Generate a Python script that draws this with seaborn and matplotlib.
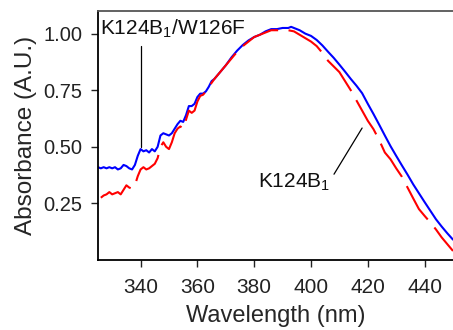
import matplotlib
matplotlib.use("Agg")
import matplotlib.pyplot as plt
import seaborn as sns
import pandas as pd
from matplotlib.ticker import FormatStrFormatter

# Absorbance spectra (wavelength in nm, absorbance in A.U.)
wl_w126f = [325, 326, 327, 328, 329, 330, 331, 332, 333, 334, 335, 336, 337, 338,
            339, 340, 341, 342, 343, 344, 345, 346, 347, 348, 349, 350, 351, 352,
            353, 354, 355, 356, 357, 358, 359, 360, 361, 362, 363, 364, 365, 366,
            367, 368, 369, 370, 372, 374, 376, 378, 380, 382, 384, 386, 388, 390,
            392, 393, 394, 396, 398, 400, 402, 404, 406, 408, 410, 412, 414, 416,
            418, 420, 422, 424, 426, 428, 430, 432, 434, 436, 438, 440, 442, 444,
            446, 448, 450]
abs_w126f = [0.41, 0.405, 0.41, 0.405, 0.41, 0.405, 0.41, 0.40, 0.405, 0.42, 0.415,
             0.405, 0.40, 0.42, 0.46, 0.49, 0.48, 0.485, 0.475, 0.49, 0.48, 0.50,
             0.55, 0.56, 0.555, 0.55, 0.56, 0.58, 0.60, 0.615, 0.61, 0.64, 0.68,
             0.68, 0.69, 0.72, 0.735, 0.735, 0.745, 0.765, 0.79, 0.80, 0.815, 0.83,
             0.845, 0.86, 0.895, 0.925, 0.95, 0.97, 0.985, 0.995, 1.01, 1.02, 1.02,
             1.025, 1.025, 1.03, 1.025, 1.015, 1.0, 0.99, 0.972, 0.948, 0.92, 0.893,
             0.863, 0.832, 0.80, 0.77, 0.737, 0.69, 0.645, 0.598, 0.55, 0.503, 0.46,
             0.418, 0.377, 0.334, 0.295, 0.256, 0.218, 0.18, 0.148, 0.118, 0.09]

wl_k124 = [326, 327, 328, 329, 330, 331, 332, 333, 334, 335, 336, 337, 338, 339,
           340, 341, 342, 343, 344, 345, 346, 347, 348, 349, 350, 351, 352, 353,
           354, 355, 356, 357, 358, 359, 360, 361, 362, 363, 364, 366, 368, 370,
           372, 374, 376, 378, 380, 382, 384, 386, 388, 390, 392, 394, 396, 398,
           400, 402, 404, 406, 408, 410, 412, 414, 416, 418, 420, 422, 424, 426,
           428, 430, 432, 434, 436, 438, 440, 442, 444, 446, 448, 450]
abs_k124 = [0.275, 0.285, 0.29, 0.30, 0.29, 0.295, 0.30, 0.29, 0.31, 0.33, 0.32,
            0.315, 0.33, 0.37, 0.40, 0.41, 0.40, 0.405, 0.415, 0.425, 0.45, 0.50,
            0.52, 0.50, 0.49, 0.52, 0.56, 0.58, 0.59, 0.58, 0.62, 0.66, 0.65, 0.66,
            0.70, 0.725, 0.73, 0.745, 0.765, 0.80, 0.83, 0.86, 0.89, 0.92, 0.945,
            0.965, 0.985, 0.995, 1.005, 1.015, 1.015, 1.015, 1.015, 1.01, 0.995,
            0.98, 0.965, 0.945, 0.915, 0.88, 0.855, 0.83, 0.79, 0.75, 0.705, 0.66,
            0.615, 0.578, 0.53, 0.475, 0.445, 0.405, 0.368, 0.32, 0.272, 0.225,
            0.195, 0.166, 0.135, 0.10, 0.07, 0.04]

x_ticks = [340, 360, 380, 400, 420, 440]
y_ticks = [0.25, 0.50, 0.75, 1.00]

sns.set_theme(style="white")
plt.rcParams["font.family"] = ["Liberation Sans", "DejaVu Sans"]
plt.rcParams["mathtext.fontset"] = "custom"
plt.rcParams["mathtext.rm"] = "Liberation Sans"
plt.rcParams["mathtext.it"] = "Liberation Sans"

fig = plt.figure(figsize=(4.53, 3.30), dpi=100)
ax = fig.add_axes([0.2163, 0.2121, 0.7837, 0.7546])

df_w = pd.DataFrame({"wl": wl_w126f, "abs": abs_w126f})
df_k = pd.DataFrame({"wl": wl_k124, "abs": abs_k124})

sns.lineplot(data=df_w, x="wl", y="abs", ax=ax, color="#0000ff", lw=1.5,
             estimator=None, sort=False)
sns.lineplot(data=df_k, x="wl", y="abs", ax=ax, color="#ff0000", lw=1.5,
             linestyle=(0, (19, 5)), estimator=None, sort=False)

ax.set_xlim(325, 450)
ax.set_ylim(0.0, 1.1)
ax.set_xticks(x_ticks)
ax.set_yticks(y_ticks)
ax.yaxis.set_major_formatter(FormatStrFormatter("%.2f"))

ax.set_xlabel("Wavelength (nm)", fontsize=17, labelpad=6)
ax.set_ylabel("Absorbance (A.U.)", fontsize=17.5, labelpad=5)

ax.tick_params(axis="x", direction="out", length=5, width=1, pad=8,
               labelsize=15, colors="#222222", bottom=True)
ax.tick_params(axis="y", direction="out", length=5, width=1, pad=6,
               labelsize=14.5, colors="#222222", left=True)

for side in ("left", "bottom"):
    ax.spines[side].set_color("black")
    ax.spines[side].set_linewidth(1.3)
ax.spines["top"].set_color("#555555")
ax.spines["top"].set_linewidth(1.3)
ax.spines["right"].set_visible(False)

# Labels with leader lines
ax.text(325.6, 1.02, r"K124B$_1$/W126F", fontsize=15, ha="left", va="center",
        color="#111111")
ax.plot([340, 340], [0.945, 0.50], color="black", lw=0.9)

ax.text(381.5, 0.345, r"K124B$_1$", fontsize=15, ha="left", va="center",
        color="#111111")
ax.plot([408.1, 418.0], [0.379, 0.583], color="black", lw=0.9)

fig.savefig("out.png", dpi=100)
